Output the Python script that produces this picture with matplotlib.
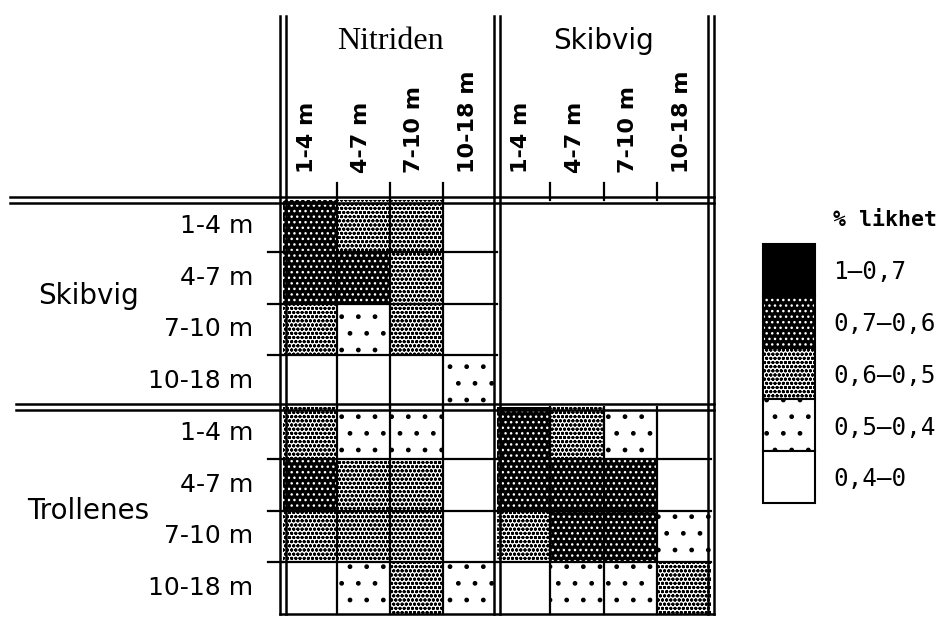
#Similarity matrix (% likhet) between stations by depth
import matplotlib.pyplot as plt
import numpy as np

depths = ['1-4 m', '4-7 m', '7-10 m', '10-18 m']
colGroups = ['Nitriden', 'Skibvig']
rowGroups = ['Skibvig', 'Trollenes']
classes = ['1–0,7', '0,7–0,6', '0,6–0,5', '0,5–0,4', '0,4–0']

#class index (into classes) for each cell, rows = depth of row station, cols = depth of column station
skibvigNitriden = [[1, 2, 2, 4],
                   [1, 1, 2, 4],
                   [2, 3, 2, 4],
                   [4, 4, 4, 3]]
trollenesNitriden = [[2, 3, 3, 4],
                     [1, 2, 2, 4],
                     [2, 2, 2, 4],
                     [4, 3, 2, 3]]
trollenesSkibvig = [[1, 2, 3, 4],
                    [1, 1, 1, 4],
                    [2, 1, 1, 3],
                    [4, 3, 3, 2]]

plt.rcParams['hatch.linewidth'] = 1.0

styles = [dict(color = 'black', edgecolor = 'black', hatch = None),
          dict(color = 'black', edgecolor = 'white', hatch = '...'),
          dict(color = 'white', edgecolor = 'black', hatch = 'oooo'),
          dict(color = 'white', edgecolor = 'black', hatch = '.'),
          dict(color = 'white', edgecolor = 'black', hatch = None)]

def drawBlock(ax, cells, r0, c0):
  cells = np.array(cells)
  for k, st in enumerate(styles):
    rr, cc = np.nonzero(cells == k)
    if len(rr):
      ax.bar(c0 + cc + 0.5, 1, width = 1, bottom = r0 + rr, linewidth = 0, **st)
  for i in range(1, 4):
    ax.plot([c0 + i, c0 + i], [r0, r0 + 4], color = 'k', lw = 1.6)
    ax.plot([c0, c0 + 4], [r0 + i, r0 + i], color = 'k', lw = 1.6)

def showGraph():
  fig = plt.figure(figsize = (9.46, 6.18), dpi = 100)
  ax = fig.add_axes([0, 0, 1, 1])
  ax.set_xlim(-5.29, 12.393)
  ax.set_ylim(8.077, -3.865)
  ax.set_axis_off()

  drawBlock(ax, skibvigNitriden, 0, 0)
  drawBlock(ax, trollenesNitriden, 4, 0)
  drawBlock(ax, trollenesSkibvig, 4, 4)

  dd = 0.05
  for b in [0, 4, 8]:
    for s in (-1, 1):
      ax.plot([b + s * dd] * 2, [-3.55, 8], color = 'k', lw = 1.8)
  for b, x0 in [(0, -5.1), (4, -5.0)]:
    for s in (-1, 1):
      ax.plot([x0, 8 + dd], [b + s * dd] * 2, color = 'k', lw = 1.8)
  ax.plot([-dd, 8 + dd], [8, 8], color = 'k', lw = 1.8)

  for i in [1, 2, 3, 5, 6, 7]:
    ax.plot([-0.28, 0], [i, i], color = 'k', lw = 1.6)
    ax.plot([i, i], [-0.33, 0], color = 'k', lw = 1.6)

  #column headers
  ax.text(2, -2.92, colGroups[0], ha = 'center', va = 'baseline', fontsize = 23, family = 'Liberation Serif')
  ax.text(6, -2.92, colGroups[1], ha = 'center', va = 'baseline', fontsize = 20)
  for g in range(2):
    for j, d in enumerate(depths):
      ax.text(4 * g + j + 0.45, -0.52, d, rotation = 90, ha = 'center', va = 'bottom', fontsize = 16, fontweight = 'bold')

  #row headers
  for g, yc in zip(range(2), [1.85, 6.0]):
    ax.text(-3.645, yc, rowGroups[g], ha = 'center', va = 'center', fontsize = 20)
    for i, d in enumerate(depths):
      ax.text(-0.56, 4 * g + i + 0.5, d, ha = 'right', va = 'center', fontsize = 18)

  #legend
  ax.text(10.28, 0.39, '% likhet', ha = 'left', va = 'center', fontsize = 15.5, fontweight = 'bold', family = 'DejaVu Sans Mono')
  for k, lab in enumerate(classes):
    ax.bar(9.45, 1, width = 0.97, bottom = 0.85 + k, linewidth = 0, **styles[k])
    ax.bar(9.45, 1, width = 0.97, bottom = 0.85 + k, fill = False, edgecolor = 'k', linewidth = 1.5)
    ax.text(10.28, 0.85 + k + 0.55, lab, ha = 'left', va = 'center', fontsize = 17.5, family = 'DejaVu Sans Mono')

  fig.savefig('out.png', dpi = 100, facecolor = 'white')

if __name__ == '__main__':
  showGraph()
